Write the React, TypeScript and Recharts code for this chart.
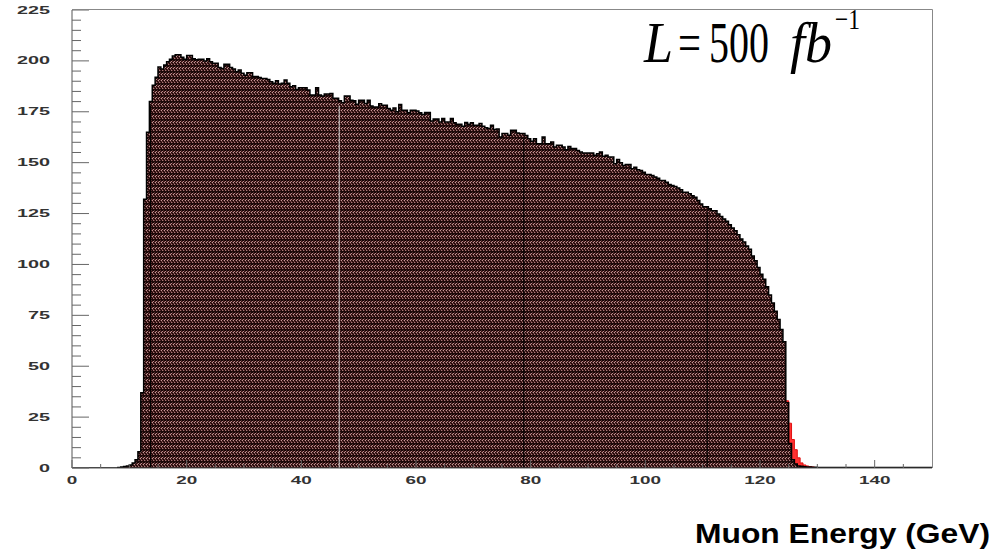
import React from 'react'
import { ComposedChart, Area, XAxis, YAxis, ReferenceLine } from 'recharts'

// muon energy spectrum, 0.5 GeV bins from 0 to 150 GeV
const binWidth = 0.5
const counts = [
  0, 0, 0, 0, 0, 0, 0, 0, 0, 0,
  0, 0, 0, 0, 0, 0, 0.3, 0.5, 0.7, 1.0,
  1.5, 2.5, 4, 8, 37, 132, 165, 180, 188, 192,
  197, 196, 198, 199.6, 200.8, 202.4, 203, 203, 201.8, 200.8,
  202.6, 202.6, 201, 200.5, 200.8, 200.8, 200, 201, 199.6, 198.8,
  198.8, 196.8, 196.3, 198.3, 198.3, 196.8, 196, 194.7, 195.5, 193.9,
  193, 194.2, 194.2, 192.3, 192.3, 191.9, 191.4, 191.4, 190.8, 189.8,
  189, 190.3, 188.6, 189, 190.6, 189, 187.3, 187.8, 186, 186.8,
  186.8, 186.8, 185.7, 183.2, 183.2, 186.8, 183.2, 182.7, 183.7, 183.7,
  184, 181.6, 181.6, 180.4, 179.4, 182.7, 182.7, 180.7, 180.4, 178.7,
  180.7, 180.7, 179.1, 180.7, 177.9, 177.4, 177.4, 179, 178.2, 178.2,
  176.6, 175.7, 176.9, 175, 178.6, 175.7, 175.7, 174.5, 175.7, 175.7,
  175.4, 174.5, 173.7, 174.7, 174.7, 170.5, 171.4, 171.4, 170, 171.7,
  170, 170, 171.7, 169.6, 168.9, 168.9, 167.9, 169.7, 168.9, 169.6,
  168.4, 168.4, 169.2, 167.9, 167.2, 166.8, 168.4, 166.3, 166.5, 162.6,
  164.3, 164.3, 163.5, 165.9, 165.9, 164.6, 164.3, 164.3, 163.4, 161.8,
  160.5, 161.8, 159.3, 159.3, 162.6, 159.3, 159.3, 160.2, 157.7, 158.5,
  158.5, 157.7, 156.4, 158, 156.9, 156.9, 156, 155.3, 154.8, 154.8,
  154.8, 154.8, 153.6, 154.4, 155.3, 153.1, 153.6, 152.8, 152.8, 149.5,
  151.5, 149.9, 148.6, 149.1, 149.1, 147, 147.8, 146.5, 146.2, 145.3,
  144.2, 144.2, 143.7, 142.9, 142.3, 141.2, 141.2, 140.4, 139.3, 138.8,
  138.3, 137.6, 136.7, 135.5, 135.5, 134.7, 133.8, 133, 131.4, 129.7,
  128.4, 128.4, 127.3, 126.4, 126.4, 124.8, 123.5, 122.3, 121.2, 119.5,
  117.9, 116.6, 114.6, 112.5, 111, 109, 107.5, 104.2, 101.8, 98.5,
  95.2, 92.7, 89, 85, 81, 77, 73, 68, 62, 32,
  12, 4, 2, 1, 0.8, 0.6, 0.5, 0.5, 0.4, 0.4,
  0.3, 0.3, 0.3, 0.3, 0.3, 0.3, 0.3, 0.3, 0.3, 0.3,
  0.3, 0.3, 0.3, 0.3, 0.3, 0.3, 0.3, 0.3, 0.3, 0.3,
  0.3, 0.3, 0.3, 0.3, 0.3, 0.3, 0.3, 0.3, 0.3, 0.3,
  0.3, 0.3, 0.3, 0.3, 0.3, 0.3, 0.3, 0.3, 0.3, 0.3,
]

// the red histogram only shows past the black one at the end-point
const redStart = 124.5
const redCounts = [33, 22, 14, 9, 5, 2.5, 1.5, 1, 0.7, 0.5]

// stray vertical lines inside the filled area
const seams = [
  { x: 13.7, top: 178, color: '#000000' },
  { x: 46.6, top: 178, color: '#d8d8d8' },
  { x: 78.8, top: 162, color: '#000000' },
  { x: 110.8, top: 126, color: '#000000' },
]

const xLabels = [0, 20, 40, 60, 80, 100, 120, 140]
const yLabels = [0, 25, 50, 75, 100, 125, 150, 175, 200, 225]
const xTicks = Array.from({ length: 30 }, (_, i) => i * 5)
const yTicks = Array.from({ length: 46 }, (_, i) => i * 5)

const table: { x: number; count: number; red?: number }[] = counts.map((v, i) => ({ x: i * binWidth, count: v }))
table.push({ x: counts.length * binWidth, count: counts[counts.length - 1] })
const r0 = Math.round(redStart / binWidth)
redCounts.forEach((v, k) => { table[r0 + k].red = v })
table[r0 + redCounts.length].red = redCounts[redCounts.length - 1]

const labelFont = { fontFamily: 'Liberation Sans, Arial, sans-serif', fontSize: 10, fontWeight: 700, fill: '#333' }

const YTick = (props: any) => {
  const { x, y, payload } = props
  const v = payload.value
  const major = yLabels.includes(v)
  return (
    <g>
      <line x1={x} x2={x + (major ? 17 : 9)} y1={y} y2={y} stroke="#666" strokeWidth={1} />
      {major && (
        <text x={x - 22} y={y} textAnchor="end" dominantBaseline="central"
          textLength={String(v).length * 11} lengthAdjust="spacingAndGlyphs" {...labelFont}>{v}</text>
      )}
    </g>
  )
}

const XTick = (props: any) => {
  const { x, y, payload } = props
  const v = payload.value
  const major = xLabels.includes(v)
  const w = String(v).length * 10.5
  return (
    <g>
      <line x1={x} x2={x} y1={y} y2={y - (major ? 8 : 4)} stroke="#666" strokeWidth={1} />
      {major && (
        <text x={x - w / 2} y={y + 12} dominantBaseline="central"
          textLength={w} lengthAdjust="spacingAndGlyphs" {...labelFont}>{v}</text>
      )}
    </g>
  )
}

export default function App() {
  return (
    <div style={{ position: 'absolute', left: 0, top: 0, width: 997, height: 552, background: '#fff' }}>
      <ComposedChart width={997} height={552} data={table}
        margin={{ top: 10, right: 65, left: 12, bottom: 0 }}>
        <defs>
          <pattern id="muonFill" width="3" height="6" patternUnits="userSpaceOnUse">
            <rect width="3" height="6" fill="#5a2c2c" />
            <rect x="0" y="0" width="1" height="1" fill="#120505" />
            <rect x="2" y="0" width="1" height="1" fill="#120505" />
            <rect x="0" y="1" width="1" height="1" fill="#b98a8a" />
            <rect x="1" y="1" width="1" height="1" fill="#2a0e0e" />
            <rect x="2" y="2" width="1" height="1" fill="#c49a9a" />
            <rect x="0" y="2" width="1" height="1" fill="#200808" />
            <rect x="1" y="3" width="1" height="1" fill="#120505" />
            <rect x="0" y="4" width="1" height="1" fill="#a87878" />
            <rect x="2" y="4" width="1" height="1" fill="#1c0707" />
            <rect x="0" y="5" width="3" height="1" fill="#1e0909" />
          </pattern>
        </defs>
        <XAxis type="number" dataKey="x" domain={[0, 150]} ticks={xTicks} interval={0}
          tick={<XTick />} tickSize={0} tickMargin={0} tickLine={false}
          axisLine={{ stroke: '#555' }} height={84} allowDataOverflow />
        <YAxis type="number" domain={[0, 225]} ticks={yTicks} interval={0}
          tick={<YTick />} tickSize={0} tickMargin={0} tickLine={false}
          axisLine={{ stroke: '#555' }} width={60} allowDataOverflow />
        <Area type="stepAfter" dataKey="red" stroke="#e01010" strokeWidth={1} fill="#ff3030"
          fillOpacity={1} isAnimationActive={false} connectNulls={false} dot={false} activeDot={false} />
        <Area type="stepAfter" dataKey="count" stroke="#000" strokeWidth={1.5} fill="url(#muonFill)"
          fillOpacity={1} isAnimationActive={false} dot={false} activeDot={false} />
        {seams.map((s) => (
          <ReferenceLine key={s.x} segment={[{ x: s.x, y: 0 }, { x: s.x, y: s.top }]}
            stroke={s.color} strokeWidth={1} />
        ))}
      </ComposedChart>
      <svg width={997} height={552} style={{ position: 'absolute', left: 0, top: 0, pointerEvents: 'none' }}>
        <line x1={72} x2={932.5} y1={9.5} y2={9.5} stroke="#888" />
        <line x1={932.5} x2={932.5} y1={9.5} y2={468} stroke="#888" />
        <g fontFamily="Liberation Serif, Times New Roman, serif" fill="#000">
          <text x={644} y={62} fontSize={56} fontStyle="italic" textLength={29} lengthAdjust="spacingAndGlyphs">L</text>
          <text x={678} y={62} fontSize={56} textLength={23} lengthAdjust="spacingAndGlyphs">=</text>
          <text x={709} y={62} fontSize={56} textLength={60} lengthAdjust="spacingAndGlyphs">500</text>
          <text x={790} y={62} fontSize={56} fontStyle="italic" textLength={42} lengthAdjust="spacingAndGlyphs">fb</text>
          <text x={835} y={29} fontSize={30} textLength={25} lengthAdjust="spacingAndGlyphs">−1</text>
        </g>
        <text x={695} y={543} fontFamily="Liberation Sans, Arial, sans-serif" fontSize={28} fontWeight={700}
          fill="#000" textLength={295} lengthAdjust="spacingAndGlyphs">Muon Energy (GeV)</text>
      </svg>
    </div>
  )
}
